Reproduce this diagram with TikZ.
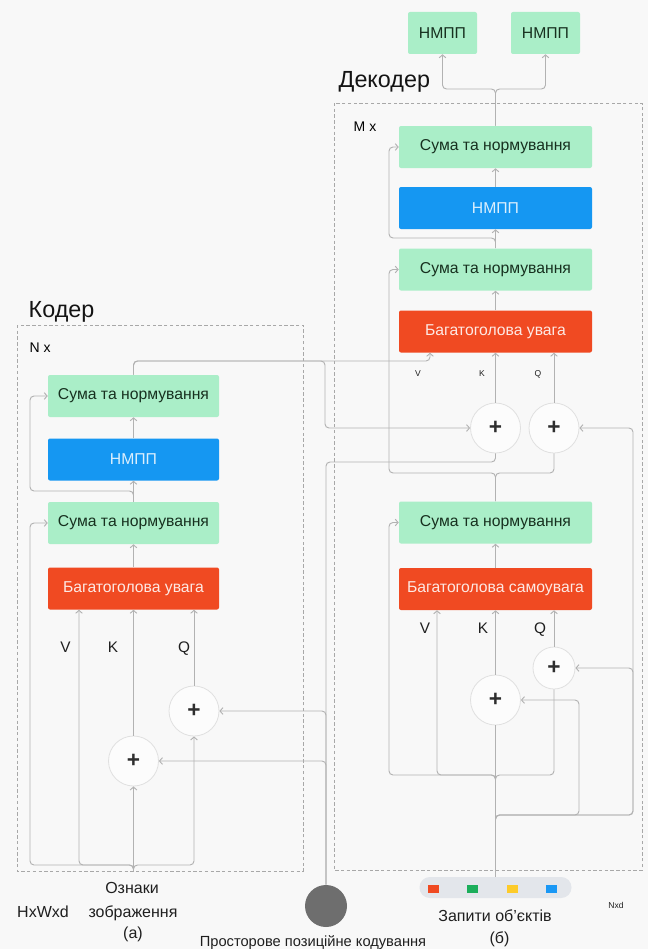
\documentclass[tikz,border=0pt]{standalone}
\usepackage{fontspec}
\setmainfont{Liberation Sans}
\usetikzlibrary{arrows.meta,calc}
\definecolor{bg}{HTML}{F8F8F8}
\definecolor{mint}{HTML}{AAEEC8}
\definecolor{minttext}{HTML}{17301F}
\definecolor{ffnblue}{HTML}{1597F2}
\definecolor{attred}{HTML}{F04A22}
\definecolor{wirec}{HTML}{B2B2B2}
\definecolor{framec}{HTML}{A8A8A8}
\definecolor{ringc}{HTML}{E0E0E0}
\definecolor{posgray}{HTML}{6E6E6E}
\definecolor{pillc}{HTML}{E3E6EB}
\definecolor{qred}{HTML}{F04A22}
\definecolor{qgreen}{HTML}{1CAE5B}
\definecolor{qyellow}{HTML}{FDCB2A}
\definecolor{qblue}{HTML}{1A98F5}
\begin{document}
\begin{tikzpicture}[x=0.75pt,y=-0.75pt,
  wire/.style={draw=wirec, line width=0.7pt, rounded corners=3pt},
  flow/.style={wire, -{Straight Barb[length=2.2pt,width=5pt]}},
  box/.style={rectangle, rounded corners=1.5pt, minimum height=31.5pt, inner sep=0pt,
    font=\fontsize{11.8}{13}\selectfont},
  addnorm/.style={box, fill=mint, text=minttext},
  ffn/.style={box, fill=ffnblue, text=white!85!ffnblue},
  mha/.style={box, fill=attred, text=white!88!attred},
  encw/.style={minimum width=128.25pt},
  decw/.style={minimum width=144.75pt},
  outw/.style={minimum width=51.75pt},
  sumnode/.style={circle, draw=ringc, fill=white!60!bg, line width=0.6pt, inner sep=0pt,
    minimum size=37.5pt, font=\bfseries\fontsize{17}{17}\selectfont, text=black!82},
  frameb/.style={draw=framec, dash pattern=on 2.5pt off 1.8pt, line width=0.5pt},
  title/.style={anchor=base west, font=\fontsize{17.5}{20}\selectfont, text=black!92},
  lbl/.style={anchor=base, font=\fontsize{11.5}{13}\selectfont, text=black!88},
  caption/.style={anchor=base, font=\fontsize{12}{14}\selectfont, text=black!88},
  tinylbl/.style={anchor=base, font=\fontsize{6.4}{8}\selectfont, text=black!88},
]
\useasboundingbox (0,0) rectangle (648,949);
\fill[bg] (0,0) rectangle (648,949);

% ---------- frames and titles ----------
\draw[frameb] (17,325) rectangle (303,871);
\draw[frameb] (334,103) rectangle (642,870);
\node[title] (enctitle) at (24,317) {Кодер};
\node[title] (dectitle) at (334,88) {Декодер};
\node[anchor=base west, font=\fontsize{10.5}{12}\selectfont] (nx) at (25,352) {N x};
\node[anchor=base west, font=\fontsize{10.5}{12}\selectfont] (mx) at (349,131) {M x};

% ---------- encoder blocks ----------
\node[addnorm,encw] (eg1) at (133.5,396) {Сума та нормування};
\node[ffn,encw]     (eb)  at (133.5,459.5) {НМПП};
\node[addnorm,encw] (eg2) at (133.5,523) {Сума та нормування};
\node[mha,encw]     (er)  at (133.5,588.5) {Багатоголова увага};
\node[sumnode] (ek) at (133.5,761) {+};
\node[sumnode] (eq) at (194,711) {+};

\node[lbl] (ev-l) at (65.5,652) {V};
\node[lbl] (ek-l) at (113,652) {K};
\node[lbl] (eq-l) at (184,652) {Q};

% ---------- decoder blocks ----------
\node[addnorm,outw] (o1) at (442.5,33) {НМПП};
\node[addnorm,outw] (o2) at (545.5,33) {НМПП};

\node[addnorm,decw] (dg1) at (495.5,147) {Сума та нормування};
\node[ffn,decw]     (db)  at (495.5,208) {НМПП};
\node[addnorm,decw] (dg2) at (495.5,269.5) {Сума та нормування};
\node[mha,decw]     (dr)  at (495.5,331.5) {Багатоголова увага};
\node[sumnode] (dk) at (495.5,428) {+};
\node[sumnode] (dq) at (554,428) {+};

\node[tinylbl] (dv-l) at (418,376) {V};
\node[tinylbl] (dk-l) at (482,376) {K};
\node[tinylbl] (dq-l) at (538,376) {Q};

\node[addnorm,decw] (dgs) at (495.5,522.5) {Сума та нормування};
\node[mha,decw]     (drs) at (495.5,589) {Багатоголова самоувага};
\node[sumnode] (dsk) at (495.5,700) {+};
\node[sumnode, minimum size=31.5pt] (dsq) at (554,668) {+};

\node[lbl] (dsv-l) at (425,633) {V};
\node[lbl] (dsk-l) at (483,633) {K};
\node[lbl] (dsq-l) at (540,633) {Q};

% ---------- inputs ----------
\node[circle, fill=posgray, minimum size=31.5pt, inner sep=0pt] (pe) at (326,906) {};
\node[rectangle, rounded corners=7.8pt, fill=pillc, minimum width=114pt,
      minimum height=15.75pt, inner sep=0pt] (qp) at (495.5,887.5) {};
\fill[qred]    (427.5,884.5) rectangle (438.5,892.5);
\fill[qgreen]  (466.5,884.5) rectangle (477.5,892.5);
\fill[qyellow] (506.5,884.5) rectangle (517.5,892.5);
\fill[qblue]   (545.5,884.5) rectangle (556.5,892.5);

\node[caption] (hw)  at (43,917) {HxWxd};
\node[caption] (feat1) at (132,893) {Ознаки};
\node[caption] (feat2) at (133,917) {зображення};
\node[caption] (tagA) at (133,938) {(а)};
\node[lbl, font=\fontsize{11}{13}\selectfont] (posl) at (313,946) {Просторове позиційне кодування};
\node[caption] (qlab) at (495,921) {Запити об’єктів};
\node[caption] (tagB) at (499.5,943) {(б)};
\node[tinylbl] (nxd) at (616,908) {Nxd};

% ---------- encoder wiring ----------
\coordinate (ein) at (133.5,871);
\coordinate (ej)  at (133.5,865);
\coordinate (eres) at (30,865);
\coordinate (evx) at (79,865);
\coordinate (ef)  at (133.5,491);
\coordinate (efl) at (30,491);

\draw[flow] (er.north) -- (eg2.south);
\draw[flow] (eg2.north) -- (eb.south);
\draw[flow] (eb.north) -- (eg1.south);
\draw[flow] (eg2.north) -- (ef) -- (efl) |- (eg1.west);

\draw[flow] (ein) -- (ej) -- (eres) |- (eg2.west);
\draw[flow] (ein) -- (ej) -- (evx) -- (evx |- er.south);
\draw[flow] (ein) -- (ek.south);
\draw[flow] (ek.north) -- (er.south);
\draw[flow] (ein) -- (ej) -| (eq.south);
\draw[flow] (eq.north) -- (eq.north |- er.south);

% positional encoding
\coordinate (pturn) at (326,462);
\draw[flow] (pe.north) |- (eq.east);
\draw[flow] (pe.north) |- (ek.east);
\draw[wire] (pe.north) -- (pturn) -| (dk.south);

% encoder memory into the decoder
\coordinate (mturn) at (325,361);
\coordinate (vin) at (430,361);
\draw[flow] (eg1.north) |- (vin) -- (vin |- dr.south);
\draw[flow] (eg1.north) |- (mturn) |- (dk.west);

% ---------- decoder wiring ----------
\coordinate (os) at (495.5,89);
\draw[flow] (dg1.north) -- (os) -| (o1.south);
\draw[flow] (dg1.north) -- (os) -| (o2.south);

\draw[flow] (db.north) -- (dg1.south);
\draw[flow] (dg2.north) -- (db.south);
\draw[flow] (dr.north) -- (dg2.south);
\coordinate (dr1) at (495.5,238);
\coordinate (dr1l) at (389,238);
\draw[flow] (dg2.north) -- (dr1) -- (dr1l) |- (dg1.west);

\draw[flow] (dk.north) -- (dr.south);
\draw[flow] (dq.north) -- (dq.north |- dr.south);

\coordinate (dj) at (495.5,473);
\coordinate (dres) at (389,473);
\draw[wire] (dgs.north) -- (dj) -| (dq.south);
\draw[flow] (dgs.north) -- (dj) -- (dres) |- (dg2.west);

\draw[flow] (drs.north) -- (dgs.south);

% object queries
\coordinate (qj) at (495.5,775);
\coordinate (sres) at (389,775);
\coordinate (sv) at (437,775);
\coordinate (qa) at (579,815);
\coordinate (qb) at (633,815);
\draw[flow] (qp.north) -- (qj) -- (sres) |- (dgs.west);
\draw[flow] (qp.north) -- (qj) -- (sv) -- (sv |- drs.south);
\draw[wire] (qp.north) -- (dsk.south);
\draw[flow] (dsk.north) -- (drs.south);
\draw[wire] (qp.north) -- (qj) -| (dsq.south);
\draw[flow] (dsq.north) -- (dsq.north |- drs.south);
\draw[flow] (qp.north) |- (qa) |- (dsk.east);
\draw[flow] (qp.north) |- (qb) |- (dsq.east);
\draw[flow] (qp.north) |- (qb) |- (dq.east);
\end{tikzpicture}
\end{document}
